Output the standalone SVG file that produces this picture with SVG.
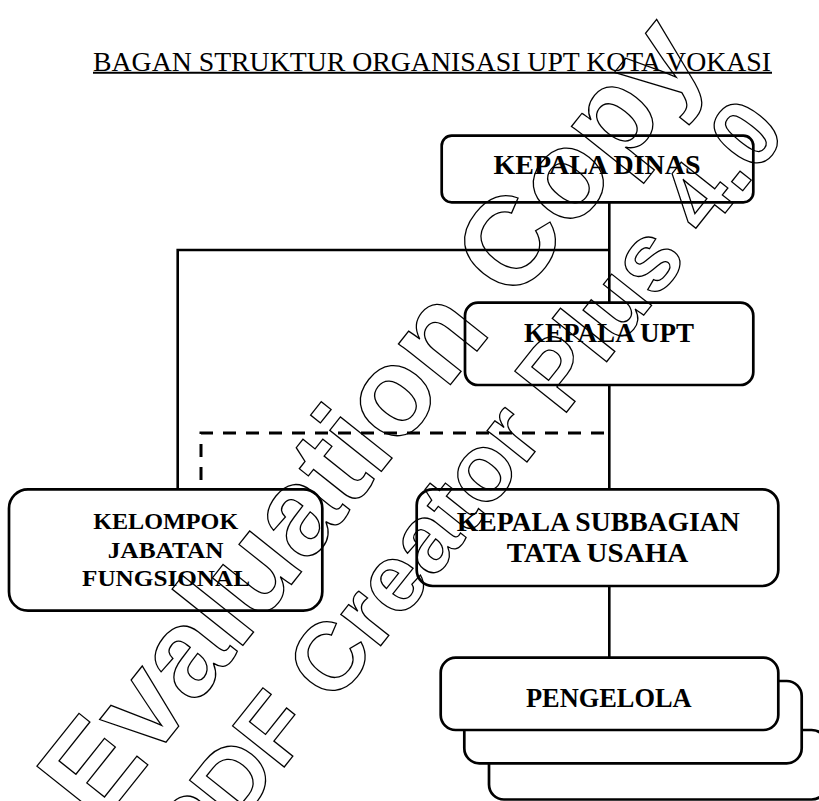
<svg xmlns="http://www.w3.org/2000/svg" width="819" height="801" viewBox="0 0 819 801">
  <style>
    .box { fill: #ffffff; stroke: #000000; stroke-width: 2.7; }
    .conn { fill: none; stroke: #000000; stroke-width: 2.6; }
    .dash { fill: none; stroke: #000000; stroke-width: 3; stroke-dasharray: 13 10; }
    .lbl { font-family: "Liberation Serif", "Times New Roman", serif; font-weight: bold; fill: #000000; text-anchor: middle; }
    .title { font-family: "Liberation Serif", "Times New Roman", serif; font-size: 28px; fill: #000000; }
    .wm { font-family: "Liberation Sans", Arial, sans-serif; font-weight: bold; fill: none; stroke: #000000; stroke-width: 1.3; }
  </style>
  <rect x="0" y="0" width="819" height="801" fill="#ffffff"/>

  <g id="title">
    <text class="title" x="93" y="70.5" textLength="678" lengthAdjust="spacingAndGlyphs">BAGAN STRUKTUR ORGANISASI UPT KOTA VOKASI</text>
    <line x1="93" y1="72.8" x2="772" y2="72.8" stroke="#000000" stroke-width="2"/>
  </g>

  <g id="connectors">
    <line class="conn" x1="609.3" y1="202" x2="609.3" y2="303"/>
    <polyline class="conn" points="609.3,250 177.7,250 177.7,489"/>
    <line class="conn" x1="609.3" y1="385" x2="609.3" y2="489"/>
    <line class="conn" x1="609.3" y1="586" x2="609.3" y2="658"/>
    <polyline class="dash" points="604,433 201,433 201,489"/>
  </g>

  <g id="kepala-dinas">
    <rect class="box" x="441.7" y="135.7" width="311.6" height="66.6" rx="10" ry="10"/>
    <text class="lbl" x="597" y="174" font-size="28" textLength="207" lengthAdjust="spacingAndGlyphs">KEPALA DINAS</text>
  </g>

  <g id="kepala-upt">
    <rect class="box" x="465" y="302.7" width="288.3" height="82.3" rx="13" ry="13"/>
    <text class="lbl" x="609" y="342.3" font-size="27" textLength="170" lengthAdjust="spacingAndGlyphs">KEPALA UPT</text>
  </g>

  <g id="kelompok-jabatan-fungsional">
    <rect class="box" x="9" y="489.3" width="313.3" height="121.4" rx="19" ry="19"/>
    <text class="lbl" x="165.7" y="529" font-size="24" textLength="145" lengthAdjust="spacingAndGlyphs">KELOMPOK</text>
    <text class="lbl" x="165.7" y="557.7" font-size="24" textLength="116" lengthAdjust="spacingAndGlyphs">JABATAN</text>
    <text class="lbl" x="166" y="585.7" font-size="24" textLength="168" lengthAdjust="spacingAndGlyphs">FUNGSIONAL</text>
  </g>

  <g id="kepala-subbagian-tata-usaha">
    <rect class="box" x="416.7" y="489.3" width="361.6" height="96.7" rx="16" ry="16"/>
    <text class="lbl" x="598.3" y="530.7" font-size="27.5" textLength="283" lengthAdjust="spacingAndGlyphs">KEPALA SUBBAGIAN</text>
    <text class="lbl" x="597.5" y="561.7" font-size="27.5" textLength="181.6" lengthAdjust="spacingAndGlyphs">TATA USAHA</text>
  </g>

  <g id="pengelola">
    <rect class="box" x="489" y="730" width="337.6" height="69.5" rx="15" ry="15"/>
    <rect class="box" x="464.3" y="681" width="337.4" height="82.3" rx="15" ry="15"/>
    <rect class="box" x="440.7" y="657.7" width="337.6" height="72.3" rx="15" ry="15"/>
    <text class="lbl" x="608.8" y="707.3" font-size="27.5" textLength="165.7" lengthAdjust="spacingAndGlyphs">PENGELOLA</text>
  </g>

  <g id="watermark">
    <text class="wm" font-size="125" transform="translate(99.1,826.3) rotate(-51.5)">Evaluation Copy</text>
    <text class="wm" font-size="96" transform="translate(197.3,876.4) rotate(-51.5)">PDF Creator Plus 4.0</text>
  </g>
</svg>
